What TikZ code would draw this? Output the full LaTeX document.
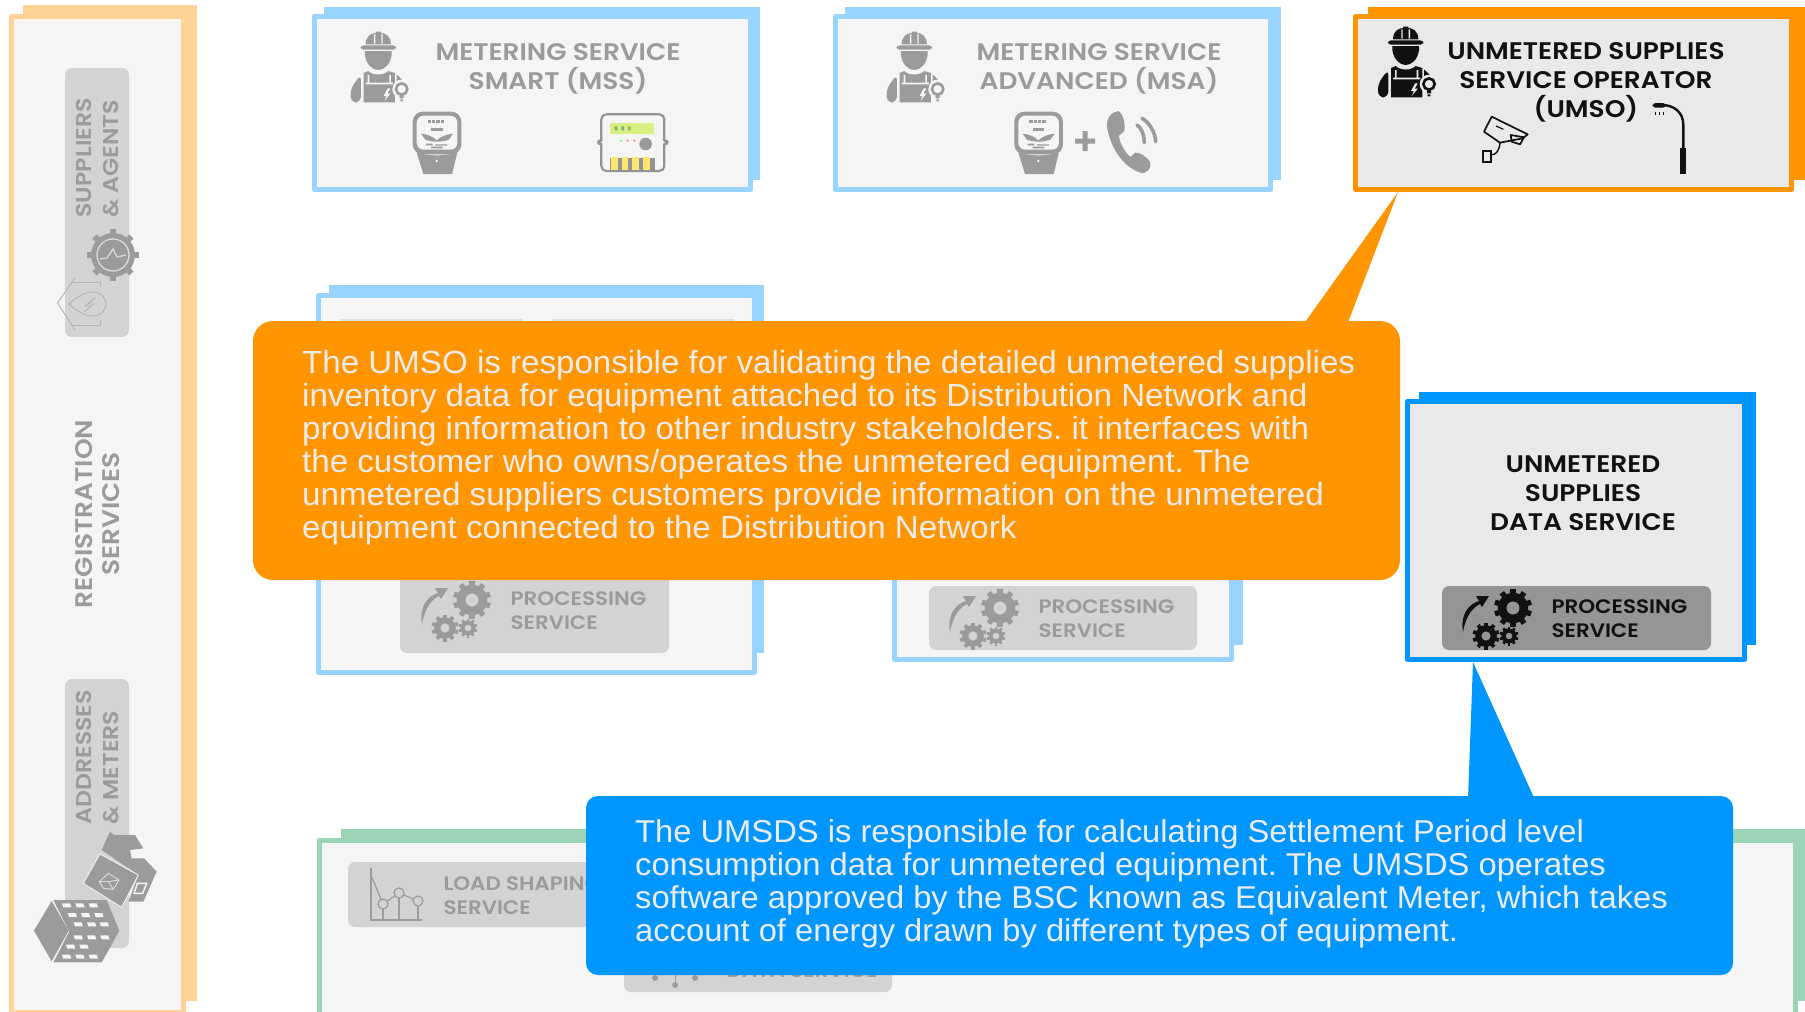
\documentclass[tikz,border=0pt]{standalone}
\usepackage{fontspec}
\usepackage{tikz}
\setmainfont{Liberation Sans}[FakeStretch=1.035]
\newfontfamily\labelfont{Poppins SemiBold}[FakeStretch=1.1]
\usetikzlibrary{calc}
\definecolor{softblue}{HTML}{99D3FF}
\definecolor{softorange}{HTML}{FFD296}
\definecolor{softgreen}{HTML}{9BD3B7}
\definecolor{fullorange}{HTML}{FF9500}
\definecolor{fullblue}{HTML}{0096FF}
\definecolor{paledim}{HTML}{F5F5F5}
\definecolor{paleact}{HTML}{E9E9E9}
\definecolor{pilldim}{HTML}{D3D3D3}
\definecolor{pillact}{HTML}{959595}
\definecolor{inkdim}{HTML}{9B9B9B}
\definecolor{inkact}{HTML}{111111}
\definecolor{bodytext}{HTML}{ECECEC}
\tikzset{
	boxlabel/.style={font=\labelfont\fontsize{24}{29}\selectfont, align=center, text=inkdim},
	sidelabel/.style={font=\labelfont\fontsize{21.5}{27}\selectfont, align=center, text=inkdim, rotate=90},
	pilllabel/.style={font=\labelfont\fontsize{19.5}{24}\selectfont, align=left, anchor=west, text=inkdim},
	calloutbody/.style={font=\fontsize{32}{33}\selectfont\frenchspacing, align=left, anchor=north west, text=bodytext, inner sep=0pt}
}
% back plate, then front plate
\def\doubleframe[#1][#2](#3)(#4)(#5)(#6){\fill[#1] (#3) rectangle (#4); \draw[#1, line width=5pt, line join=round, fill=#2] (#5) rectangle (#6);}
\def\gearwheel(#1)(#2)(#3)(#4){
	\foreach \a in {0,36,...,144} {\fill[#3, rotate around={\a:(#1)}] ($(#1)+(-#2*0.14,-#2)$) rectangle ($(#1)+(#2*0.14,#2)$);}
	\fill[#3] (#1) circle (#2*0.8);
	\fill[#4] (#1) circle (#2*0.34);
}
% gears and arrow of a processing pill, placed by the big gear
\def\processicon(#1)(#2)(#3){
	\gearwheel(#1)(19)(#2)(#3)
	\gearwheel($(#1)+(-27,28)$)(13.5)(#2)(#3)
	\gearwheel($(#1)+(-4,28)$)(9.5)(#2)(#3)
	\fill[#2] ($(#1)+(-50,24)$) .. controls ($(#1)+(-53,6)$) and ($(#1)+(-44,-4)$) .. ($(#1)+(-34,-7)$) -- ($(#1)+(-37,-12)$) -- ($(#1)+(-24,-12)$) -- ($(#1)+(-31,-1)$) -- ($(#1)+(-33,-4)$) .. controls ($(#1)+(-41,0)$) and ($(#1)+(-47,8)$) .. cycle;
}
\def\workericon(#1)(#2)(#3){
	\begin{scope}[shift={(#1)}, scale=1/3]
		\fill[#2] (-38,38) .. controls (-38,12) and (-20,4) .. (-8,4) -- (-8,0) -- (8,0) -- (8,4) .. controls (20,4) and (38,12) .. (38,38) -- cycle;
		\fill[#3] (-13,8) rectangle (-9,36) (9,8) rectangle (13,36);
		\fill[#2, rounded corners=3] (-53,41) rectangle (53,54);
		\fill[#2] (-40,58) -- (40,58) -- (40,70) .. controls (36,100) and (16,115) .. (0,115) .. controls (-16,115) and (-36,100) .. (-40,70) -- cycle;
		\fill[#2, rounded corners=6] (-83,212) -- (-83,170) -- (-52,128) -- (-52,212) -- cycle;
		\fill[#2] (-44,124) -- (-44,212) -- (50,212) -- (50,124) -- (30,118) .. controls (15,132) and (-15,132) .. (-30,118) -- cycle;
		\fill[#2] (55,128) -- (78,150) -- (55,175) -- cycle;
		\fill[#3] (-32,130) rectangle (-27,155) (33,130) rectangle (38,155) (-38,153) rectangle (44,158);
		\fill[#3] (28,170) -- (16,193) -- (25,193) -- (18,208) -- (36,186) -- (27,186) -- (36,170) -- cycle;
		\fill[#3] (70,172) circle (28);
		\draw[#2, line width=2.6pt] (70,172) circle (17);
		\fill[#2] (64,190) rectangle (76,200) (66,203) rectangle (74,209);
	\end{scope}
}
\def\metericon(#1)(#2)(#3){
	\begin{scope}[shift={(#1)}, scale=1/3]
		\fill[#2, rounded corners=10pt] (0,0) rectangle (146,128);
		\fill[#3, rounded corners=7pt] (12,12) rectangle (134,114);
		\fill[#2] (12,122) .. controls (50,134) and (96,134) .. (134,122) -- (118,187) -- (32,187) -- cycle;
		\fill[#3] (72,148) circle (4);
		\foreach \x in {45,58,71,84} {\fill[#2] (\x,24) rectangle (\x+10,34);}
		\fill[#2] (55,50) rectangle (90,57);
		\fill[#2] (25,66) .. controls (45,68) and (60,74) .. (72,86) .. controls (85,74) and (100,68) .. (121,66) -- (108,84) .. controls (85,92) and (60,92) .. (38,84) -- cycle;
		\fill[#2] (40,96) rectangle (60,101) (68,98) rectangle (104,102) (55,105) rectangle (90,110);
	\end{scope}
}
\def\digitalicon(#1){
	\begin{scope}[shift={(#1)}, scale=1/3]
		\draw[black!30!pilldim, line width=2.2pt, rounded corners=5pt] (4,4) rectangle (193,174);
		\fill[black!30!pilldim] (0,88) circle (9) (197,88) circle (9);
		\fill[paledim] (7,88) circle (4) (190,88) circle (4);
		\fill[green!60!black!30!yellow!50!white] (30,30) rectangle (162,62);
		\fill[inkdim!80!green] (44,40) rectangle (52,52) (64,40) rectangle (72,52) (84,40) rectangle (92,52);
		\fill[green!50!white] (63,83) circle (4);
		\fill[red!45!white] (83,83) circle (4) (103,83) circle (4);
		\fill[inkdim] (137,93) circle (19);
		\fill[black!30!pilldim] (30,135) rectangle (166,172);
		\foreach \x in {33,65,97,129} {\fill[yellow!70!orange!55!white] (\x,133) rectangle (\x+20,170);}
	\end{scope}
}
\def\phoneicon(#1){
	\begin{scope}[shift={(#1)}, scale=1/3]
		\fill[inkdim] (35,0) .. controls (5,5) and (-8,30) .. (5,70) .. controls (20,125) and (55,170) .. (100,185) .. controls (120,190) and (135,170) .. (130,155) .. controls (118,135) and (100,125) .. (85,125) -- (70,138) .. controls (55,125) and (40,100) .. (35,75) -- (52,60) .. controls (55,40) and (52,15) .. (35,0) -- cycle;
		\draw[inkdim, line width=3.6pt, line cap=round] (90,42) .. controls (102,50) and (110,65) .. (112,95);
		\draw[inkdim, line width=3.6pt, line cap=round] (105,22) .. controls (128,35) and (145,65) .. (146,92);
	\end{scope}
}
\begin{document}
\begin{tikzpicture}[x=1pt, y=-1pt]
	%%%%% START %%%%%
	\useasboundingbox (0,0) rectangle (1805,1012);
	\fill[white] (0,0) rectangle (1805,1012);

	% left column
	\doubleframe[softorange][paledim](23,5)(197,1001)(11.5,16.5)(183.5,1012)
	\fill[pilldim, rounded corners=7] (65,68) rectangle (129,337);
	\fill[pilldim, rounded corners=7] (65,679) rectangle (129,948);
	\node[sidelabel, anchor=west, align=left] (supplierLabel) at (97.5,221) {SUPPLIERS\\\& AGENTS};
	\node[sidelabel, font=\labelfont\fontsize{24}{27}\selectfont] (registrationLabel) at (97.5,514) {REGISTRATION\\SERVICES};
	\node[sidelabel, anchor=west, align=left] (addressLabel) at (97.5,828) {ADDRESSES\\\& METERS};

	\foreach \a in {0,45,90,135} {\fill[inkdim, rotate around={\a:(113,255)}] (110,229) rectangle (116,281);}
	\fill[inkdim] (113,255) circle (22);
	\draw[paledim!70!inkdim, line width=1.3pt] (113,255) circle (16);
	\draw[paledim!70!inkdim, line width=1.3pt] (100,259) -- (107,258) -- (113,249) -- (117,257) -- (126,255);

	\draw[inkdim!75!white, line width=1pt] (75,278) -- (57.5,303) -- (75,330);
	\draw[inkdim!75!white, line width=1pt] (72,282) -- (100,282) -- (100,287);
	\draw[inkdim!75!white, line width=1pt] (72,325) -- (100,325) -- (100,320);
	\draw[inkdim!75!white, line width=1pt] (69,304) .. controls (78,296) and (85,292) .. (93,292) .. controls (110,292) and (110,316) .. (93,316) .. controls (85,316) and (78,312) .. (69,304) -- cycle;
	\draw[inkdim!75!white, line width=0.8pt] (95,298) -- (85,306) -- (91,306) -- (84,312) -- (94,304) -- (88,304) -- cycle;

	% house and block of flats
	\begin{scope}[shift={(0,500)}, scale=1/3]
		\fill[inkdim] (305,1050) -- (330,995) -- (342,1005) -- (405,1005) -- (430,1045) -- (390,1050) -- (395,1075) -- (432,1075) -- (470,1115) -- (430,1205) -- (385,1205) -- (415,1125) -- cycle;
		\fill[inkdim, draw=paledim, line width=0.8pt] (250,1150) -- (300,1062) -- (415,1125) -- (365,1222) -- cycle;
		\draw[paledim, line width=1.4pt] (402,1180) -- (412,1150) -- (440,1150) -- (428,1180) -- cycle;
		\draw[paledim!70!inkdim, line width=1pt] (298,1145) -- (325,1120) -- (357,1140) -- (340,1168) -- (310,1165) -- cycle (325,1145) -- (298,1145) (325,1145) -- (357,1140) (325,1145) -- (340,1168);
		\fill[inkdim, draw=paledim, line width=0.8pt] (100,1292) -- (155,1200) -- (208,1292) -- (155,1387) -- cycle;
		\fill[inkdim] (160,1200) -- (320,1200) -- (358,1292) -- (325,1352) -- (305,1387) -- (160,1387) -- (208,1295) -- cycle;
		\foreach \x/\y in {200/1216,240/1216,280/1216,217/1245,257/1245,297/1245,235/1273,275/1273,313/1273,235/1312,275/1312,315/1312,212/1340,252/1340,200/1370,240/1370,280/1370}
			{\fill[paledim] (\x-14,\y-6) -- (\x+10,\y-6) -- (\x+14,\y+6) -- (\x-10,\y+6) -- cycle;}
	\end{scope}

	% metering boxes
	\doubleframe[softblue][paledim](324,7)(760,180)(314.5,16.5)(750.5,189.5)
	\node[boxlabel] (mssLabel) at (558,68.5) {METERING SERVICE\\SMART (MSS)};
	\workericon(378.3,31.7)(inkdim)(paledim)
	\metericon(412.7,111.7)(inkdim)(paledim)
	\digitalicon(600,113)

	\doubleframe[softblue][paledim](845,7)(1281,180)(835.5,16.5)(1270.5,189.5)
	\node[boxlabel] (msaLabel) at (1099,68.5) {METERING SERVICE\\ADVANCED (MSA)};
	\workericon(914.3,31.7)(inkdim)(paledim)
	\metericon(1014.3,111.7)(inkdim)(paledim)
	\fill[inkdim] (1075,138.5) rectangle (1095,143.5) (1082.5,131) rectangle (1087.5,151);
	\phoneicon(1107,111)

	\doubleframe[fullorange][paleact](1368,7)(1805,180)(1355.5,16.5)(1791.5,189.5)
	\node[boxlabel, text=inkact] (umsoLabel) at (1586,82) {UNMETERED SUPPLIES\\SERVICE OPERATOR\\(UMSO)};
	\workericon(1405.7,26.7)(inkact)(paleact)
	\begin{scope}[shift={(1340,0)}, scale=1/3]
		\draw[inkact, line width=1.7pt, line join=round] (455,350) -- (563,403) -- (548,415) -- (480,428) -- (432,395) -- cycle;
		\draw[inkact, line width=1.7pt, line join=round] (512,405) -- (552,412) -- (540,433) -- (515,425) -- cycle;
		\draw[inkact, line width=1.2pt] (468,378) -- (490,388);
		\draw[inkact, line width=1.4pt] (480,428) .. controls (478,450) and (470,465) .. (452,465);
		\draw[inkact, line width=1.7pt] (428,452) rectangle (452,487);
		\draw[inkact, line width=2.4pt] (1030,450) -- (1030,375) .. controls (1030,335) and (1000,315) .. (965,315);
		\fill[inkact] (1021,445) rectangle (1039,522);
		\fill[inkact, rounded corners=3] (938,309) rectangle (977,323);
		\draw[inkact, line width=0.5pt] (945,335) -- (945,344) (957,335) -- (957,344) (969,335) -- (969,344);
	\end{scope}

	% processing boxes, mostly hidden by the orange note
	\doubleframe[softblue][paledim](329,285)(764,653)(318.5,295.5)(754.5,672.5)
	\fill[pilldim!70!paledim] (341,319) rectangle (522,330) (552,319) rectangle (734,330);
	\fill[pilldim, rounded corners=7] (400,520) rectangle (669,653);
	\node[pilllabel] (procOneLabel) at (507,611) {PROCESSING\\SERVICE};
	\processicon(472,600)(inkdim)(pilldim)

	\doubleframe[softblue][paledim](905,400)(1243,645)(894.5,410)(1231.5,659.5)
	\fill[pilldim, rounded corners=7] (929,586) rectangle (1197,650);
	\node[pilllabel] (procTwoLabel) at (1035,619) {PROCESSING\\SERVICE};
	\processicon(1000,608)(inkdim)(pilldim)

	\doubleframe[fullblue][paleact](1419,392)(1756,645)(1407.5,401.5)(1744.5,659.5)
	\node[boxlabel, text=inkact] (umsdsLabel) at (1583,493) {UNMETERED\\SUPPLIES\\DATA SERVICE};
	\fill[pillact, rounded corners=7] (1442,586) rectangle (1711,650);
	\node[pilllabel, text=inkact] (procThreeLabel) at (1548,619) {PROCESSING\\SERVICE};
	\processicon(1513,608)(inkact)(pillact)

	% bottom box
	\doubleframe[softgreen][paledim](341,829)(1805,1001)(319.5,840.5)(1795.5,1020)
	\fill[pilldim, rounded corners=7] (348,862) rectangle (640,927);
	\node[pilllabel] (loadLabel) at (440,896) {LOAD SHAPING\\SERVICE};
	\draw[inkdim, line width=1.2pt] (371,868) -- (371,920) -- (422,920);
	\draw[inkdim, line width=1.2pt] (371,875) -- (383,904) -- (399,893) -- (418,901);
	\foreach \x/\y in {383/904,399/893,418/901} {\draw[inkdim, line width=1.2pt, fill=pilldim] (\x,\y) circle (5); \draw[inkdim, line width=1.2pt] (\x,\y+5) -- (\x,920);}
	\fill[pilldim, rounded corners=7] (624,930) rectangle (892,992);
	\node[pilllabel] (dataLabel) at (723,971) {DATA SERVICE};
	\draw[inkdim, line width=1pt] (655,965) -- (655,978) (675,965) -- (675,985) (695,965) -- (695,978);
	\fill[inkdim] (655,978) circle (3) (675,985) circle (3) (695,978) circle (3);

	% notes
	\fill[fullorange] (1398,192) -- (1347,325) -- (1303,325) -- cycle;
	\fill[fullorange, rounded corners=20] (253,321) rectangle (1400,580);
	\node[calloutbody] (umsoNote) at (302,350) {The UMSO is responsible for validating the detailed unmetered supplies\\inventory data for equipment attached to its Distribution Network and\\providing information to other industry stakeholders. it interfaces with\\the customer who owns/operates the unmetered equipment. The\\unmetered suppliers customers provide information on the unmetered\\equipment connected to the Distribution Network};

	\fill[fullblue] (1473,662) -- (1468,800) -- (1535,800) -- cycle;
	\fill[fullblue, rounded corners=12] (586,796) rectangle (1733,975);
	\node[calloutbody, font=\fontsize{31.6}{33}\selectfont\frenchspacing] (umsdsNote) at (635,819) {The UMSDS is responsible for calculating Settlement Period level\\consumption data for unmetered equipment. The UMSDS operates\\software approved by the BSC known as Equivalent Meter, which takes\\account of energy drawn by different types of equipment.};
	%%%%% END %%%%%
\end{tikzpicture}
\end{document}
